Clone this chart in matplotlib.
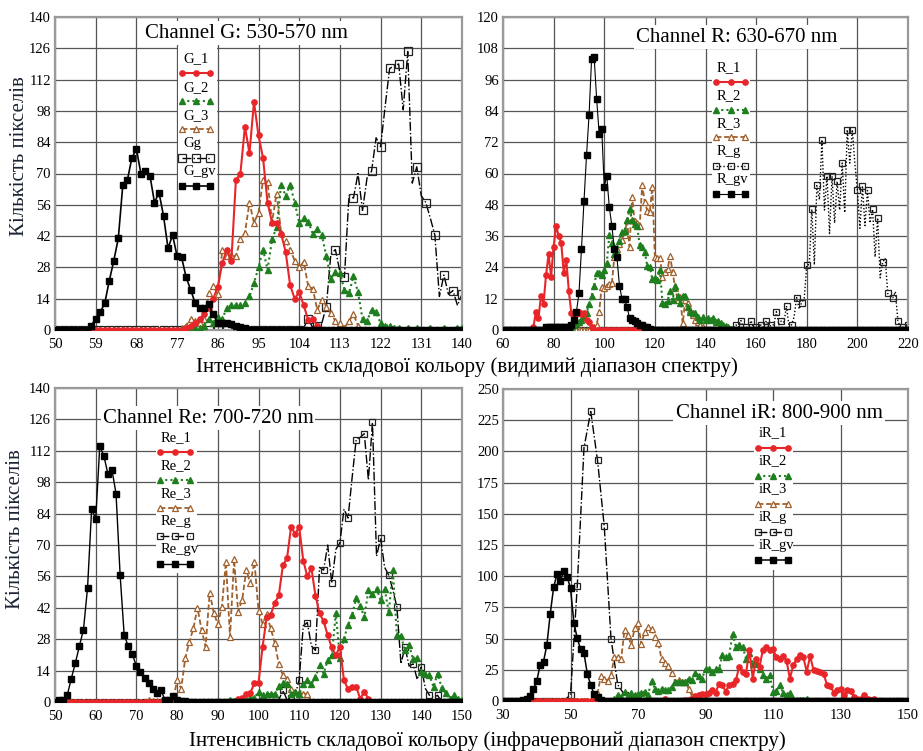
import numpy as np
import matplotlib
matplotlib.use("Agg")
import matplotlib.pyplot as plt
from matplotlib.patches import Rectangle

plt.rcParams['font.family'] = ['Liberation Serif', 'DejaVu Serif']

# ---------------- data (start value, values at unit steps) ----------------
# Channel G
G_1_start = 78
G_1 = [0, 1, 2, 3, 5, 7, 10, 14, 19.4, 30, 36, 31, 67, 70, 91, 79, 102, 87, 77, 57,
       48, 48, 43, 35, 20, 14, 17, 11, 4.5, 5, 2, 0]
G_2_start = 80
G_2 = [0, 1, 1, 2, 5, 3, 6, 5, 10, 11, 11, 11, 12, 15, 21, 28, 36, 27, 40.5, 46,
       65, 60, 65, 57, 48, 50, 48.5, 43, 45, 42.5, 33, 23, 26, 25.5, 18, 16.5, 24, 17,
       5, 4, 9, 8, 3, 2, 2, 1, 1, 0, 1, 0, 1, 0, 0, 1, 0, 0, 1, 0, 0, 1, 1]
G_3_start = 78
G_3 = [1, 2, 5, 4, 3, 5, 16.5, 19.5, 16, 36, 33, 33.5, 33, 40.5, 43.5, 57, 48, 52.5,
       67, 66, 48.5, 61, 43.5, 40, 36, 31, 28, 30.5, 19.5, 18.5, 9, 13.5, 10.5, 7.5,
       4, 3, 1, 4, 7, 2, 0]
Gg_start = 104
Gg = [0, 1, 5, 1, 2, 3, 10.5, 34, 36, 26, 23.5, 60, 59, 70, 53.5, 68, 71, 86, 82,
      100, 117, 118, 119, 98.5, 124.6, 65.7, 73, 60, 57, 50, 42.5, 15, 24.6, 16, 17.6,
      11, 16]
G_gv_start = 57
G_gv = [0, 2, 5, 8, 12, 22, 31, 41, 65, 67, 77, 81, 70, 71, 69, 57, 61.5, 51, 36.5,
        42.5, 33, 32.5, 23.5, 18, 12, 10, 10, 11.5, 7, 3, 3, 3, 2.5, 2, 1.5, 1, 0]

# Channel R
R_1_start = 71
R_1 = [0, 1, 7, 4.5, 13, 10, 21, 29, 20.5, 32, 40, 36, 33.5, 22, 27, 15, 6.5, 5, 6,
       7, 6, 6.5, 4, 3, 1, 0]
R_2_start = 86
R_2 = [0, 1, 2, 2.5, 3, 4, 5, 6.5, 10, 13, 17, 22, 22, 21, 23, 25.6, 36.5, 33.5, 29,
       29.4, 34, 37.7, 38, 42, 46.3, 42, 40.7, 39.7, 32.6, 32, 30, 24.6, 24.3, 19.4,
       19.8, 19, 23, 10.5, 10, 11, 15, 11.5, 17, 13, 10.5, 13, 13, 9, 7, 6.4, 6.4, 5,
       4, 5, 4, 4.5, 4, 4.5, 3, 3.5, 2.5, 2, 1.5, 1, 0.5, 0]
R_3_start = 95
R_3 = [0, 1, 2, 7, 16.6, 16, 17, 17.5, 18, 28, 31, 33, 34.5, 36.5, 42, 32, 51, 41.6,
       41, 40, 55.6, 49, 45.8, 45.4, 55, 28, 27.5, 27.5, 20.5, 22.4, 23.3, 28.4, 22.4,
       16, 11.5, 12.8, 2.5, 11.5, 10.5, 7.7, 5.8, 3.8, 3.2, 2, 1, 0]
R_g_start = 150
R_g = [0, 0, 2, 1, 3.6, 1, 1, 1, 3.6, 1, 1, 1, 2, 1, 3.6, 1, 2, 2, 7, 2, 3.6, 3, 9.2,
       1, 2, 5, 12.4, 8, 10.5, 12, 25, 25, 46.3, 25, 55.4, 50, 73, 46, 59, 37, 59, 41,
       57, 46, 64, 45, 76.8, 64, 76.8, 64, 53.5, 39, 55.3, 40, 53.5, 41, 46.3, 28, 43,
       20, 26, 27.5, 14, 13, 12.4, 14.7, 3.6, 1, 1, 1, 2]
R_gv_start = 76
R_gv = [0, 1, 1, 1, 1, 1, 1, 1, 1, 1, 1, 2, 4, 7, 14, 31, 49.5, 67, 82.5, 104, 104.6,
        88.6, 75, 77, 55, 59, 47, 40, 31, 28, 17, 12, 12, 9, 4.5, 4, 3.5, 2.5, 2, 2, 1,
        1, 0.5, 0]

# Channel Re
Re_1_start = 94
Re_1 = [0, 1.5, 2, 3.4, 4, 8.5, 8.5, 24.6, 37.7, 39, 44, 47.7, 61, 64, 78, 75, 78,
        63, 56, 59.6, 47.4, 39.5, 36, 29.8, 24.3, 20.9, 24.6, 9.7, 5.7, 6.7, 6.7, 1.5,
        4.5, 1.5, 0]
Re_2_start = 92
Re_2 = [0, 1, 0.5, 0.5, 0.5, 1, 2, 2, 4.5, 3, 3.7, 3.5, 3.7, 7, 8.5, 8.2, 3.7, 4.5,
        3.5, 8, 9.7, 8.2, 11, 16.4, 12.7, 18.6, 20.9, 39.5, 19.4, 28.3, 34.3, 38.7,
        46.5, 43, 37.7, 49.9, 48, 50.6, 45.4, 50.6, 40, 58.8, 29.8, 29.3, 23, 25.3, 19,
        19.8, 13.4, 12.4, 11.9, 6.7, 12.7, 6.4, 4, 1.5, 3, 1.5, 0.7]
Re_3_start = 72
Re_3 = [0, 1, 0.5, 0.5, 0.5, 1, 0.5, 0.5, 9.7, 6, 19.4, 26.8, 32.8, 42, 32.3, 24.6,
        48.7, 39.8, 34.7, 42.4, 62.6, 29, 63.6, 40.2, 45.7, 58.8, 52.9, 62.6, 40.7, 35,
        39.2, 32.8, 26.4, 16.8, 11.9, 10.4, 6, 4.5, 4, 3.7, 3.7, 0]
Re_g_start = 104
Re_g = [0, 1, 5.2, 1, 2, 3, 10, 34, 35.4, 25, 23, 60, 58.8, 70, 53, 68, 71, 86, 82,
        100, 117, 118, 119.6, 99, 124.7, 65, 73, 60, 56.6, 50, 42.4, 17, 24.6, 16, 17,
        10, 15.6, 6, 3, 2, 3, 0]
Re_gv_start = 50
Re_gv = [0, 0.7, 1, 3, 10.4, 17.4, 25, 32.3, 51, 86, 81.6, 114, 109.8, 101.7, 103.5,
         92.8, 56.6, 29.8, 24.9, 21.3, 16, 13.4, 10.9, 8.5, 6, 4, 5.5, 1, 1, 2.5, 1,
         0.5, 0.3, 0]

# Channel iR
iR_1_start = 77
iR_1 = [0, 1.3, 0, 0, 0, 0, 0, 1, 1, 2, 4, 5, 5.5, 6, 6.7, 8.8, 6.5, 14, 12.8, 7.5,
        12.8, 13.4, 16.8, 27.5, 23.5, 22, 40.9, 18, 34, 27.5, 40.9, 43, 40.9, 41.4, 35,
        33.4, 36, 32.3, 18, 28.8, 33.4, 36.9, 35, 23.5, 36, 24.8, 24, 23.5, 22, 12.8,
        12, 6.7, 8.8, 9.3, 4.8, 8.8, 8.3, 3.5, 2, 2, 4.8, 2, 1, 1.3, 0]
iR_2_start = 62
iR_2 = [0, 2, 4.8, 3, 7.5, 4, 6.7, 4.8, 6, 6.7, 7.5, 5, 16.3, 10, 8.3, 10, 8.8, 8.8,
        11.5, 15.5, 15.5, 15.5, 15.5, 18, 16.8, 22.7, 20, 18, 26, 25.4, 23.5, 26, 25.4,
        36.9, 35, 36, 53.7, 43.5, 44.9, 43.5, 34, 38.2, 30, 30.7, 26, 20.8, 18, 20.8,
        7.5, 8.3, 12.8, 6.7, 4.8, 6.7, 2, 1, 1, 1, 2, 0]
iR_3_start = 56
iR_3 = [0, 1, 6, 20, 18, 16.3, 20.8, 35.5, 35, 33.4, 56.9, 52.9, 44.9, 58.2, 62.2,
        45.7, 55.6, 59, 57.4, 51.5, 46.7, 33.4, 30.7, 28, 22.2, 15.5, 16.8, 15.5, 15.5,
        10, 4, 3.5, 4.8, 4.8, 2, 0]
iR_g_start = 46          # sampled every 2 intensity units
iR_g = [0, 0, 5, 92, 203, 232, 193, 140, 50, 13, 5, 1, 1, 0]
iR_gv_start = 35
iR_gv = [0, 1, 2, 4, 9.3, 16, 28.8, 31.5, 44.9, 70, 91, 101.8, 96.4, 104, 99.6, 90.3,
         62.8, 50.2, 41.4, 38.2, 21.6, 12.8, 5.3, 3, 1, 0]

titles = ["Channel G: 530-570 nm", "Channel R: 630-670 nm",
          "Channel Re: 700-720 nm", "Channel iR: 800-900 nm"]
xlabel_vis = "Інтенсивність складової кольору (видимий діапазон спектру)"
xlabel_ir = "Інтенсивність складової кольору (інфрачервоний діапазон спектру)"
ylabel = "Кількість пікселів"

# ---------------- styling ----------------
W, H = 923, 751
RED = '#e8262a'
GREEN = '#1f7f1f'
BROWN = '#a0602c'
BLACK = '#000000'


def style(kind, gls='-.', gms=5.0, gvlw=1.1):
    if kind == '1':
        return dict(color=RED, ls='-', lw=1.5, marker='o', ms=3.8, mfc=RED, mec=RED)
    if kind == '2':
        return dict(color=GREEN, ls=(0, (1, 1.5)), lw=1.5, marker='^', ms=4.6,
                    mfc=GREEN, mec=GREEN)
    if kind == '3':
        return dict(color=BROWN, ls=(0, (3, 1.5)), lw=1.3, marker='^', ms=4.6,
                    mfc='white', mec=BROWN, mew=0.9)
    if kind == 'g':
        return dict(color=BLACK, ls=gls, lw=1.0, marker='s', ms=gms, mfc='none',
                    mec='#222222', mew=0.9)
    return dict(color=BLACK, ls='-', lw=gvlw, marker='s', ms=4.3, mfc=BLACK, mec=BLACK)


def full(start, vals, lo, hi, step=1):
    x = np.arange(lo, hi + step, step)
    y = np.zeros(len(x))
    xs = start + step * np.arange(len(vals))
    idx = np.round((xs - lo) / step).astype(int)
    keep = (idx >= 0) & (idx < len(x))
    y[idx[keep]] = np.asarray(vals, float)[keep]
    return x, y


panels = [
    dict(box=(55, 17, 462, 330), xlim=(50, 140), xstep=9, ylim=(0, 140), ystep=14,
         title=titles[0], tpos=(246, 33),
         series=[('Gg', 'g', Gg_start, Gg, 1, (0, 2)),
                 ('G_3', '3', G_3_start, G_3, 1, None),
                 ('G_2', '2', G_2_start, G_2, 1, None),
                 ('G_1', '1', G_1_start, G_1, 1, None),
                 ('G_gv', 'gv', G_gv_start, G_gv, 1, None)],
         order=['G_1', 'G_2', 'G_3', 'Gg', 'G_gv'],
         leg=dict(lx=183, ly0=59, dy=28.2, sdy=14, sx=(182, 210), bg=(178, 47, 217, 193)),
         gls='-.', gms=5.2, gvlw=1.2),
    dict(box=(503, 17, 908, 330), xlim=(60, 220), xstep=20, ylim=(0, 120), ystep=12,
         title=titles[1], tpos=(737, 37),
         series=[('R_g', 'g', R_g_start, R_g, 1, (0, 2)),
                 ('R_3', '3', R_3_start, R_3, 1, None),
                 ('R_2', '2', R_2_start, R_2, 1, None),
                 ('R_1', '1', R_1_start, R_1, 1, None),
                 ('R_gv', 'gv', R_gv_start, R_gv, 1, None)],
         order=['R_1', 'R_2', 'R_3', 'R_g', 'R_gv'],
         leg=dict(lx=717, ly0=68, dy=28, sdy=13.5, sx=(716, 745), bg=(712, 54, 750, 200)),
         gls=(0, (1, 1.5)), gms=4.0, gvlw=0.8),
    dict(box=(55, 388, 462, 702), xlim=(50, 150), xstep=10, ylim=(0, 140), ystep=14,
         title=titles[2], tpos=(208, 418),
         series=[('Re_g', 'g', Re_g_start, Re_g, 1, (0, 2)),
                 ('Re_3', '3', Re_3_start, Re_3, 1, None),
                 ('Re_2', '2', Re_2_start, Re_2, 1, None),
                 ('Re_1', '1', Re_1_start, Re_1, 1, None),
                 ('Re_gv', 'gv', Re_gv_start, Re_gv, 1, None)],
         order=['Re_1', 'Re_2', 'Re_3', 'Re_g', 'Re_gv'],
         leg=dict(lx=161, ly0=438, dy=28, sdy=14, sx=(160, 190), bg=(156, 425, 197, 573)),
         gls='-.', gms=4.6, gvlw=1.0),
    dict(box=(503, 389, 908, 701), xlim=(30, 150), xstep=20, ylim=(0, 250), ystep=25,
         title=titles[3], tpos=(779, 413),
         series=[('iR_g', 'g', iR_g_start, iR_g, 2, None),
                 ('iR_3', '3', iR_3_start, iR_3, 1, None),
                 ('iR_2', '2', iR_2_start, iR_2, 1, None),
                 ('iR_1', '1', iR_1_start, iR_1, 1, None),
                 ('iR_gv', 'gv', iR_gv_start, iR_gv, 1, None)],
         order=['iR_1', 'iR_2', 'iR_3', 'iR_g', 'iR_gv'],
         leg=dict(lx=759, ly0=433, dy=28, sdy=15, sx=(758, 788), bg=(754, 420, 793, 570)),
         gls='-.', gms=5.0, gvlw=1.1),
]

fig = plt.figure(figsize=(W / 100, H / 100), dpi=100)

for p in panels:
    x0, y0, x1, y1 = p['box']
    ax = fig.add_axes([x0 / W, 1 - y1 / H, (x1 - x0) / W, (y1 - y0) / H])
    fx = lambda px, x0=x0, x1=x1: (px - x0) / (x1 - x0)
    fy = lambda py, y0=y0, y1=y1: (y1 - py) / (y1 - y0)

    lo, hi = p['xlim']
    styles = {}
    for z, (name, kind, start, vals, step, mev) in enumerate(p['series']):
        st = style(kind, p['gls'], p['gms'], p['gvlw'])
        styles[name] = st
        x, y = full(start, vals, lo, hi, step)
        ax.plot(x, y, markevery=mev, zorder=2 + z, **st)

    ax.set_xlim(*p['xlim'])
    ax.set_ylim(*p['ylim'])
    ax.set_xticks(np.arange(lo, hi + 0.1, p['xstep']))
    ax.set_yticks(np.arange(p['ylim'][0], p['ylim'][1] + 0.1, p['ystep']))
    ax.grid(True, color='#555555', lw=0.9)
    ax.set_axisbelow(True)
    ax.tick_params(length=0, labelsize=10.5)
    ax.tick_params(axis='x', pad=6)
    ax.tick_params(axis='y', pad=3)
    for s in ax.spines.values():
        s.set_color('#9a9a9a')
        s.set_linewidth(1.6)

    # legend
    L = p['leg']
    bx0, by0, bx1, by1 = L['bg']
    ax.add_patch(Rectangle((fx(bx0), fy(by1)), fx(bx1) - fx(bx0), fy(by0) - fy(by1),
                           transform=ax.transAxes, facecolor='white', edgecolor='none',
                           zorder=8))
    for i, name in enumerate(p['order']):
        ty = L['ly0'] + i * L['dy']
        ax.text(fx(L['lx']), fy(ty), name, transform=ax.transAxes, ha='left',
                va='center', fontsize=10.5, zorder=9)
        sy = ty + L['sdy']
        sxa, sxb = L['sx']
        ax.plot([fx(sxa), fx((sxa + sxb) / 2), fx(sxb)], [fy(sy)] * 3,
                transform=ax.transAxes, clip_on=False, zorder=9, **styles[name])

    tx, ty = p['tpos']
    ax.text(fx(tx), fy(ty), p['title'], transform=ax.transAxes, ha='center',
            va='center', fontsize=15,
            bbox=dict(facecolor='white', edgecolor='none', pad=1.5), zorder=10)

fig.text(467 / W, 1 - 367 / H, xlabel_vis, ha='center', va='center', fontsize=15)
fig.text(487 / W, 1 - 741 / H, xlabel_ir, ha='center', va='center', fontsize=15)
fig.text(20 / W, 1 - 156 / H, ylabel, rotation=90, ha='center', va='center',
         fontsize=15, color='#1c2433')
fig.text(16 / W, 1 - 529 / H, ylabel, rotation=90, ha='center', va='center',
         fontsize=15, color='#1c2433')

fig.savefig('out.png', dpi=100)
